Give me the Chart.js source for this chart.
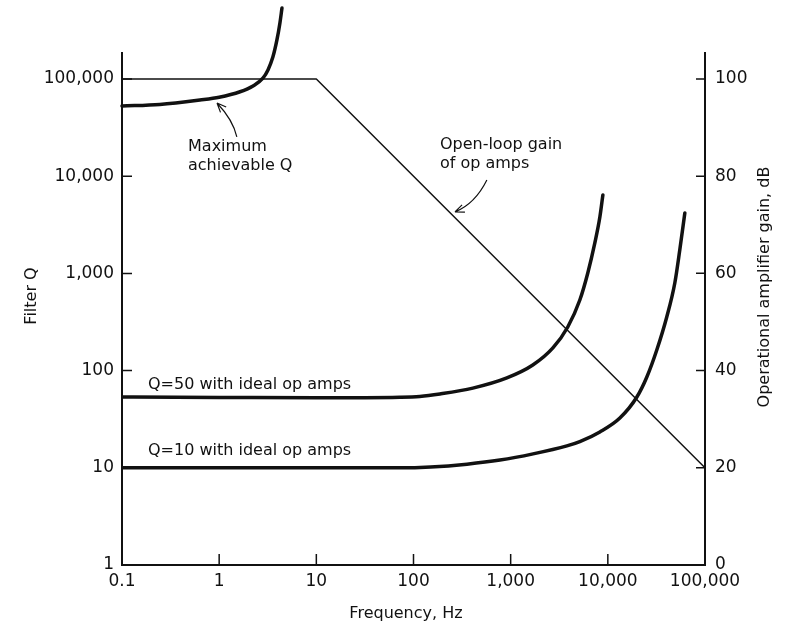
<!DOCTYPE html>
<html lang="en">
<head>
<meta charset="UTF-8">
<title>Filter Q vs frequency</title>
<script src="https://cdn.jsdelivr.net/npm/chart.js@4.4.1/dist/chart.umd.min.js"></script>
<style>
  html, body { margin: 0; padding: 0; background: #fff; }
</style>
</head>
<body>
<canvas id="chart" width="787" height="625"></canvas>
<script>
// axis ticks
const freqTicks = [0.1, 1, 10, 100, 1000, 10000, 100000];
const freqLabels = ['0.1', '1', '10', '100', '1,000', '10,000', '100,000'];
const qTicks = [1, 10, 100, 1000, 10000, 100000];
const qLabels = ['1', '10', '100', '1,000', '10,000', '100,000'];
const dbTicks = [0, 20, 40, 60, 80, 100];

// maximum achievable Q
const maxQFreq = [0.1, 0.245, 0.634, 1.0, 1.64, 2.23, 2.82, 3.18, 3.57, 3.93, 4.22, 4.43];
const maxQ = [52700, 54700, 60800, 64900, 73900, 84700, 102000, 124000, 168000, 252000, 377000, 537000];

// Q = 50 with ideal op amps
const q50Freq = [0.1, 1, 10, 72, 116, 187, 408, 914, 1690, 2720, 3870, 5150, 6220, 7350, 8280, 8890];
const q50 = [53.5, 53, 52.5, 53.2, 54.2, 57.5, 66, 84, 114, 171, 281, 532, 1010, 2060, 3800, 6410];

// Q = 10 with ideal op amps
const q10Freq = [0.1, 72, 150, 355, 776, 1700, 3790, 5150, 8280, 13300, 19900, 25200, 31900, 40400, 48900, 55000, 62000];
const q10 = [10, 10, 10.2, 10.9, 12, 13.9, 16.8, 18.6, 23.4, 32.5, 53.5, 86, 163, 356, 797, 1740, 4180];

// open-loop gain of op amps (dB, right axis)
const olFreq = [0.1, 10, 100000];
const olGainDb = [100, 100, 20];

// text notes and arrows, in data coordinates (Hz, Q)
const notes = [
  { lines: ['Maximum', 'achievable Q'], f: 0.478, q: 20000 },
  { lines: ['Open-loop gain', 'of op amps'], f: 187, q: 21000 },
  { lines: ['Q=50 with ideal op amps'], f: 0.185, q: 71 },
  { lines: ['Q=10 with ideal op amps'], f: 0.185, q: 14.9 }
];
const arrows = [
  { from: [1.52, 25300], ctrl: [1.39, 37900], to: [0.95, 56600] },
  { from: [569, 9140], ctrl: [429, 5180], to: [267, 4290] }
];

const qMax = 185000;
const dbMax = 105.34;
const ink = '#111';
const family = '"DejaVu Sans", sans-serif';

function pts(xs, ys) {
  return xs.map((x, i) => ({ x: x, y: ys[i] }));
}

const decor = {
  id: 'decor',
  afterDraw(chart) {
    const { ctx, chartArea: a, scales } = chart;
    const px = f => scales.x.getPixelForValue(f);
    const py = q => scales.y.getPixelForValue(q);
    ctx.save();

    // inward tick marks
    ctx.strokeStyle = ink;
    ctx.lineWidth = 1.5;
    ctx.beginPath();
    freqTicks.slice(1, -1).forEach(v => {
      const x = px(v);
      ctx.moveTo(x, a.bottom);
      ctx.lineTo(x, a.bottom - 11);
    });
    qTicks.slice(1).forEach(v => {
      const y = py(v);
      ctx.moveTo(a.left, y);
      ctx.lineTo(a.left + 10, y);
    });
    dbTicks.slice(1).forEach(v => {
      const y = scales.y2.getPixelForValue(v);
      ctx.moveTo(a.right, y);
      ctx.lineTo(a.right - 9, y);
    });
    ctx.stroke();

    // axis titles
    ctx.fillStyle = ink;
    ctx.font = '16px ' + family;
    ctx.textAlign = 'center';
    ctx.textBaseline = 'middle';
    ctx.fillText('Frequency, Hz', 406, 614);
    ctx.save();
    ctx.translate(32, 296);
    ctx.rotate(-Math.PI / 2);
    ctx.fillText('Filter Q', 0, 0);
    ctx.restore();
    ctx.save();
    ctx.translate(765, 287);
    ctx.rotate(-Math.PI / 2);
    ctx.fillText('Operational amplifier gain, dB', 0, 0);
    ctx.restore();

    // notes
    ctx.textAlign = 'left';
    notes.forEach(n => {
      n.lines.forEach((t, i) => ctx.fillText(t, px(n.f), py(n.q) + i * 19));
    });

    // arrows
    ctx.lineWidth = 1.2;
    arrows.forEach(ar => {
      const x0 = px(ar.from[0]), y0 = py(ar.from[1]);
      const cx = px(ar.ctrl[0]), cy = py(ar.ctrl[1]);
      const x1 = px(ar.to[0]), y1 = py(ar.to[1]);
      ctx.beginPath();
      ctx.moveTo(x0, y0);
      ctx.quadraticCurveTo(cx, cy, x1, y1);
      const ang = Math.atan2(y1 - cy, x1 - cx);
      ctx.moveTo(x1, y1);
      ctx.lineTo(x1 - 10 * Math.cos(ang - 0.4), y1 - 10 * Math.sin(ang - 0.4));
      ctx.moveTo(x1, y1);
      ctx.lineTo(x1 - 10 * Math.cos(ang + 0.4), y1 - 10 * Math.sin(ang + 0.4));
      ctx.stroke();
    });
    ctx.restore();
  }
};

const tickFont = { family: family, size: 17 };

new Chart(document.getElementById('chart'), {
  type: 'line',
  data: {
    datasets: [
      { data: pts(maxQFreq, maxQ), borderWidth: 3.5, clip: false },
      { data: pts(q50Freq, q50), borderWidth: 3.5 },
      { data: pts(q10Freq, q10), borderWidth: 3.5 },
      { data: pts(olFreq, olGainDb), borderWidth: 1.5, yAxisID: 'y2', cubicInterpolationMode: 'default', tension: 0 }
    ]
  },
  options: {
    responsive: false,
    animation: false,
    layout: { padding: { top: 53, left: 0, right: 0, bottom: 0 } },
    elements: {
      point: { radius: 0 },
      line: { borderColor: ink, cubicInterpolationMode: 'monotone', borderCapStyle: 'round', borderJoinStyle: 'round' }
    },
    plugins: { legend: { display: false }, tooltip: { enabled: false } },
    scales: {
      x: {
        type: 'logarithmic', min: 0.1, max: 100000,
        afterBuildTicks: s => { s.ticks = freqTicks.map(v => ({ value: v })); },
        afterFit: s => { s.height = 60; },
        ticks: { callback: (v, i) => freqLabels[i], padding: 6, maxRotation: 0, autoSkip: false, font: tickFont, color: ink },
        grid: { display: false, drawTicks: false },
        border: { display: true, color: ink, width: 2 }
      },
      y: {
        type: 'logarithmic', position: 'left', min: 1, max: qMax,
        afterBuildTicks: s => { s.ticks = qTicks.map(v => ({ value: v })); },
        afterFit: s => { s.width = 122; },
        ticks: { callback: (v, i) => qLabels[i], padding: 8, autoSkip: false, font: tickFont, color: ink },
        grid: { display: false, drawTicks: false },
        border: { display: true, color: ink, width: 2 }
      },
      y2: {
        type: 'linear', position: 'right', min: 0, max: dbMax,
        afterBuildTicks: s => { s.ticks = dbTicks.map(v => ({ value: v })); },
        afterFit: s => { s.width = 82; },
        ticks: { callback: (v, i) => String(dbTicks[i]), padding: 10, autoSkip: false, font: tickFont, color: ink },
        grid: { display: false, drawTicks: false },
        border: { display: true, color: ink, width: 2 }
      }
    }
  },
  plugins: [decor]
});
</script>
</body>
</html>
